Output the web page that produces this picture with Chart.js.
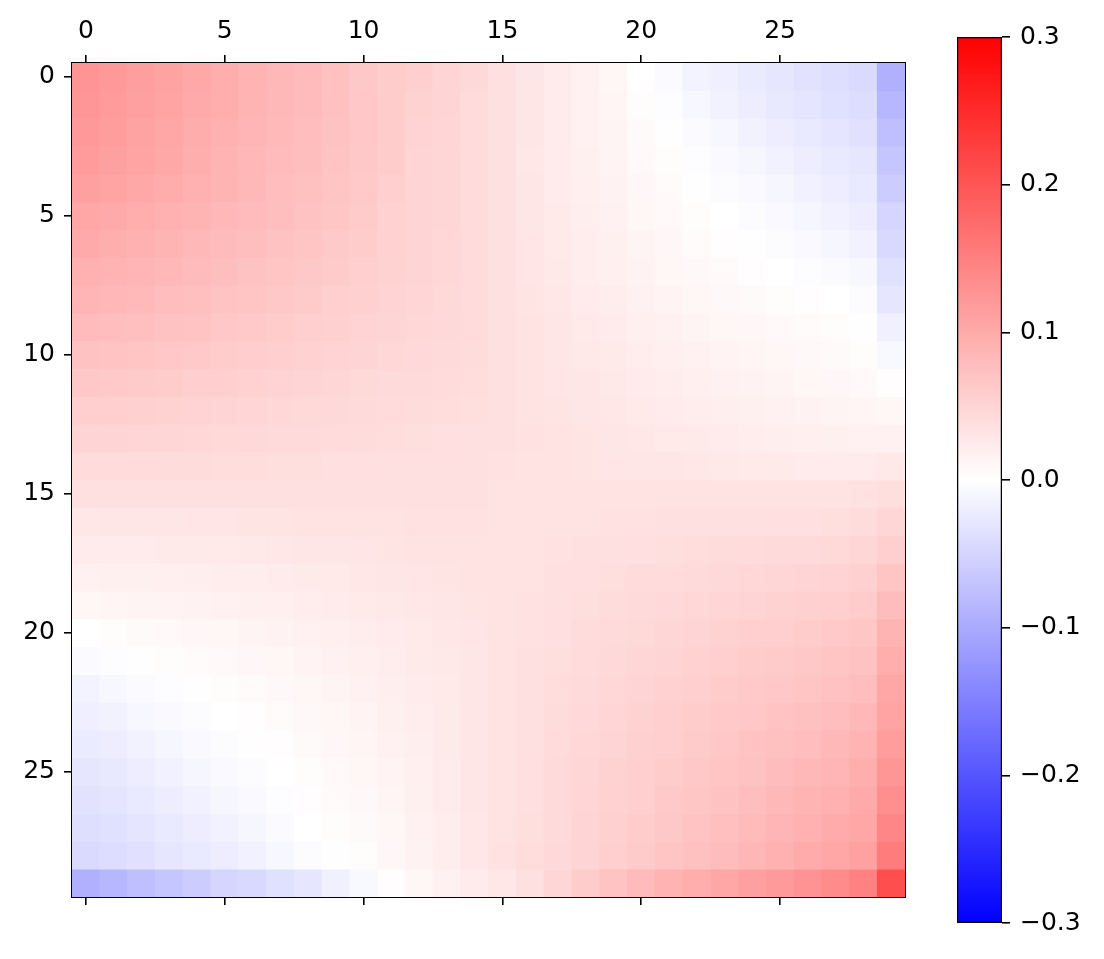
<!DOCTYPE html>
<html>
<head>
<meta charset="utf-8">
<script src="https://cdn.jsdelivr.net/npm/chart.js@4.4.1/dist/chart.umd.min.js"></script>
<style>
  body { margin: 0; background: #fff; }
  #wrap { position: relative; width: 1104px; height: 959px; }
  #heat { position: absolute; left: 0; top: 0; }
  #cbar { position: absolute; left: 940px; top: 0; }
</style>
</head>
<body>
<div id="wrap">
  <canvas id="heat" width="940" height="959"></canvas>
  <canvas id="cbar" width="164" height="959"></canvas>
</div>
<script>
// values, one array per row (row 0 at top)
const matrix = [
  [0.126,0.120,0.114,0.110,0.102,0.097,0.090,0.083,0.080,0.074,0.065,0.060,0.057,0.051,0.045,0.036,0.029,0.024,0.016,0.010,0.000,-0.006,-0.014,-0.019,-0.024,-0.030,-0.034,-0.039,-0.043,-0.093],
  [0.124,0.118,0.112,0.108,0.100,0.096,0.088,0.083,0.080,0.074,0.066,0.060,0.053,0.050,0.042,0.036,0.029,0.024,0.017,0.012,0.003,-0.002,-0.009,-0.015,-0.021,-0.027,-0.031,-0.036,-0.040,-0.085],
  [0.120,0.115,0.110,0.105,0.098,0.093,0.087,0.082,0.078,0.072,0.066,0.060,0.052,0.049,0.042,0.036,0.029,0.024,0.017,0.013,0.006,0.001,-0.005,-0.010,-0.015,-0.021,-0.026,-0.031,-0.035,-0.075],
  [0.118,0.112,0.108,0.102,0.095,0.090,0.085,0.080,0.076,0.070,0.065,0.060,0.051,0.048,0.042,0.036,0.028,0.024,0.018,0.014,0.007,0.003,-0.002,-0.007,-0.011,-0.016,-0.021,-0.026,-0.030,-0.068],
  [0.112,0.108,0.102,0.098,0.093,0.088,0.083,0.078,0.074,0.068,0.064,0.058,0.051,0.048,0.042,0.036,0.029,0.024,0.019,0.015,0.009,0.005,0.001,-0.003,-0.007,-0.011,-0.016,-0.021,-0.026,-0.060],
  [0.105,0.100,0.097,0.093,0.088,0.085,0.080,0.076,0.072,0.067,0.062,0.054,0.051,0.048,0.042,0.036,0.030,0.025,0.020,0.016,0.011,0.007,0.003,0.000,-0.004,-0.007,-0.011,-0.016,-0.021,-0.050],
  [0.100,0.095,0.092,0.088,0.084,0.080,0.076,0.072,0.068,0.064,0.060,0.054,0.050,0.047,0.042,0.036,0.031,0.026,0.021,0.018,0.013,0.009,0.005,0.002,-0.001,-0.004,-0.007,-0.011,-0.016,-0.045],
  [0.093,0.090,0.087,0.083,0.080,0.076,0.072,0.068,0.065,0.062,0.058,0.053,0.050,0.047,0.042,0.036,0.031,0.027,0.022,0.019,0.015,0.011,0.008,0.005,0.002,0.000,-0.002,-0.005,-0.009,-0.037],
  [0.087,0.085,0.082,0.078,0.075,0.071,0.068,0.065,0.062,0.058,0.055,0.052,0.049,0.046,0.042,0.036,0.032,0.028,0.024,0.021,0.017,0.014,0.011,0.008,0.006,0.004,0.002,0.000,-0.004,-0.029],
  [0.080,0.078,0.075,0.072,0.070,0.066,0.064,0.061,0.058,0.055,0.052,0.050,0.047,0.045,0.042,0.036,0.033,0.029,0.026,0.023,0.019,0.016,0.013,0.011,0.009,0.007,0.005,0.003,0.001,-0.018],
  [0.072,0.070,0.068,0.066,0.064,0.061,0.059,0.056,0.054,0.052,0.050,0.047,0.045,0.043,0.041,0.036,0.033,0.030,0.027,0.025,0.022,0.019,0.016,0.014,0.012,0.010,0.008,0.006,0.004,-0.008],
  [0.065,0.063,0.062,0.060,0.058,0.056,0.054,0.052,0.050,0.048,0.046,0.044,0.043,0.041,0.040,0.036,0.034,0.031,0.029,0.027,0.024,0.021,0.019,0.017,0.015,0.013,0.011,0.009,0.007,0.002],
  [0.057,0.056,0.055,0.053,0.052,0.050,0.049,0.047,0.046,0.045,0.043,0.042,0.041,0.040,0.039,0.036,0.034,0.032,0.030,0.028,0.026,0.024,0.022,0.020,0.018,0.016,0.015,0.013,0.012,0.010],
  [0.050,0.050,0.049,0.048,0.047,0.046,0.045,0.044,0.043,0.042,0.041,0.040,0.039,0.038,0.037,0.036,0.035,0.033,0.032,0.030,0.028,0.026,0.025,0.023,0.022,0.020,0.019,0.018,0.017,0.017],
  [0.042,0.042,0.042,0.041,0.041,0.040,0.040,0.039,0.039,0.038,0.038,0.037,0.037,0.036,0.036,0.035,0.034,0.033,0.032,0.031,0.030,0.029,0.028,0.027,0.026,0.025,0.024,0.024,0.024,0.027],
  [0.036,0.037,0.037,0.037,0.037,0.037,0.037,0.037,0.037,0.037,0.037,0.037,0.037,0.036,0.036,0.033,0.033,0.033,0.033,0.033,0.033,0.033,0.033,0.033,0.033,0.033,0.034,0.034,0.035,0.039],
  [0.028,0.029,0.030,0.030,0.031,0.031,0.032,0.032,0.033,0.033,0.034,0.034,0.035,0.035,0.035,0.033,0.034,0.034,0.034,0.035,0.035,0.036,0.036,0.037,0.037,0.038,0.038,0.039,0.041,0.048],
  [0.023,0.024,0.024,0.025,0.025,0.026,0.027,0.028,0.029,0.030,0.031,0.032,0.033,0.034,0.034,0.033,0.034,0.035,0.036,0.037,0.038,0.039,0.040,0.041,0.042,0.043,0.044,0.046,0.048,0.058],
  [0.017,0.018,0.018,0.019,0.020,0.021,0.022,0.023,0.025,0.026,0.028,0.029,0.031,0.032,0.033,0.033,0.034,0.036,0.038,0.039,0.041,0.042,0.044,0.045,0.047,0.048,0.050,0.052,0.055,0.069],
  [0.011,0.012,0.013,0.014,0.015,0.016,0.018,0.019,0.021,0.023,0.025,0.027,0.028,0.030,0.032,0.033,0.035,0.037,0.039,0.041,0.043,0.045,0.047,0.049,0.051,0.053,0.055,0.057,0.061,0.079],
  [0.000,0.003,0.006,0.007,0.009,0.011,0.013,0.015,0.017,0.019,0.022,0.024,0.026,0.028,0.031,0.033,0.035,0.038,0.041,0.043,0.046,0.048,0.051,0.053,0.056,0.058,0.060,0.063,0.067,0.088],
  [-0.006,-0.002,0.001,0.003,0.005,0.007,0.009,0.011,0.014,0.016,0.019,0.022,0.025,0.027,0.030,0.033,0.036,0.039,0.042,0.045,0.048,0.051,0.054,0.057,0.060,0.062,0.065,0.068,0.072,0.096],
  [-0.014,-0.009,-0.005,-0.002,0.001,0.003,0.005,0.008,0.011,0.013,0.016,0.020,0.023,0.026,0.030,0.033,0.036,0.040,0.044,0.047,0.051,0.054,0.057,0.060,0.063,0.066,0.069,0.073,0.078,0.105],
  [-0.019,-0.015,-0.010,-0.007,-0.003,0.000,0.002,0.005,0.008,0.011,0.014,0.018,0.022,0.025,0.030,0.033,0.037,0.041,0.045,0.049,0.053,0.057,0.060,0.063,0.066,0.071,0.074,0.078,0.085,0.108],
  [-0.024,-0.021,-0.015,-0.011,-0.007,-0.004,-0.001,0.002,0.006,0.009,0.012,0.016,0.020,0.025,0.029,0.033,0.037,0.042,0.047,0.051,0.055,0.058,0.062,0.066,0.070,0.074,0.078,0.083,0.090,0.117],
  [-0.030,-0.027,-0.021,-0.016,-0.011,-0.007,-0.004,0.000,0.004,0.007,0.010,0.014,0.019,0.024,0.029,0.033,0.038,0.043,0.048,0.053,0.056,0.060,0.065,0.068,0.072,0.079,0.083,0.087,0.095,0.124],
  [-0.034,-0.031,-0.026,-0.021,-0.016,-0.011,-0.007,-0.002,0.002,0.005,0.008,0.012,0.018,0.023,0.029,0.034,0.038,0.043,0.049,0.054,0.058,0.063,0.067,0.072,0.077,0.083,0.088,0.093,0.100,0.132],
  [-0.039,-0.036,-0.031,-0.026,-0.021,-0.016,-0.011,-0.005,0.000,0.003,0.006,0.010,0.016,0.022,0.028,0.034,0.039,0.044,0.050,0.055,0.060,0.065,0.070,0.075,0.081,0.087,0.093,0.099,0.105,0.142],
  [-0.043,-0.040,-0.035,-0.030,-0.026,-0.021,-0.016,-0.009,-0.004,0.001,0.004,0.009,0.015,0.021,0.028,0.035,0.040,0.045,0.050,0.056,0.062,0.068,0.074,0.079,0.086,0.092,0.099,0.105,0.111,0.154],
  [-0.093,-0.085,-0.075,-0.068,-0.060,-0.050,-0.045,-0.037,-0.029,-0.018,-0.008,0.002,0.010,0.017,0.024,0.028,0.037,0.048,0.060,0.070,0.080,0.089,0.096,0.105,0.112,0.119,0.128,0.136,0.148,0.208]
];

const xTicks = [0, 5, 10, 15, 20, 25];
const yTicks = [0, 5, 10, 15, 20, 25];
const cbarTicks = [-0.3, -0.2, -0.1, 0.0, 0.1, 0.2, 0.3];
const vmin = -0.3;
const vmax = 0.3;

const FONT = { family: 'DejaVu Sans', size: 25 };

// bwr colormap
function bwr(v) {
    let t = (v - vmin) / (vmax - vmin);
    t = Math.max(0, Math.min(1, t));
    let r, g, b;
    if (t < 0.5) {
        r = g = Math.round(255 * 2 * t);
        b = 255;
    } else {
        r = 255;
        g = b = Math.round(255 * (2 - 2 * t));
    }
    return `rgb(${r},${g},${b})`;
}

function fixTicks(values) {
    return function(axis) {
        axis.ticks = values.map(v => ({ value: v }));
    };
}

function tickGrid() {
    return { display: true, offset: false, drawOnChartArea: false, drawTicks: true,
             tickLength: 8, tickWidth: 1.6, tickColor: '#000', color: '#000', lineWidth: 1.6 };
}
function frame() {
    return { display: true, color: '#000', width: 2 };
}

const n = matrix.length;
const datasets = matrix.map((row, r) => ({
    data: row.map((v, c) => ({ x: c, y: [r - 0.5, r + 0.5] })),
    backgroundColor: row.map(bwr),
    borderWidth: 0,
    barPercentage: 1,
    categoryPercentage: 1,
    grouped: false
}));

new Chart(document.getElementById('heat'), {
    type: 'bar',
    data: { datasets },
    options: {
        responsive: false,
        animation: false,
        plugins: { legend: { display: false }, tooltip: { enabled: false } },
        layout: { padding: 0 },
        scales: {
            x: {
                type: 'linear', position: 'top', min: -0.5, max: n - 0.5, offset: false,
                afterBuildTicks: fixTicks(xTicks),
                afterFit: a => { a.height = 63; },
                ticks: { font: FONT, color: '#000', padding: 9, maxRotation: 0 },
                grid: tickGrid(), border: frame()
            },
            xb: {
                type: 'linear', position: 'bottom', min: -0.5, max: n - 0.5, offset: false,
                afterBuildTicks: fixTicks(xTicks),
                afterFit: a => { a.height = 62; },
                ticks: { display: false },
                grid: tickGrid(), border: frame()
            },
            y: {
                type: 'linear', position: 'left', reverse: true, min: -0.5, max: n - 0.5,
                afterBuildTicks: fixTicks(yTicks),
                afterFit: a => { a.width = 72; },
                ticks: { font: FONT, color: '#000', padding: 9 },
                grid: tickGrid(), border: frame()
            },
            yr: {
                type: 'linear', position: 'right', min: -0.5, max: n - 0.5,
                afterFit: a => { a.width = 35; },
                ticks: { display: false },
                grid: { display: false }, border: frame()
            }
        }
    }
});

// colorbar
new Chart(document.getElementById('cbar'), {
    type: 'bar',
    data: {
        labels: [''],
        datasets: [{
            data: [[vmin, vmax]],
            barPercentage: 1,
            categoryPercentage: 1,
            borderWidth: 1.6,
            borderColor: '#000',
            borderSkipped: false,
            backgroundColor: function(ctx) {
                const chart = ctx.chart;
                if (!chart.chartArea) return '#fff';
                const y = chart.scales.y;
                const g = chart.ctx.createLinearGradient(0, y.getPixelForValue(vmin), 0, y.getPixelForValue(vmax));
                g.addColorStop(0, bwr(vmin));
                g.addColorStop(0.5, bwr(0));
                g.addColorStop(1, bwr(vmax));
                return g;
            }
        }]
    },
    options: {
        responsive: false,
        animation: false,
        plugins: { legend: { display: false }, tooltip: { enabled: false } },
        layout: { padding: { left: 17, top: 37, bottom: 36, right: 0 } },
        scales: {
            x: { display: false },
            y: {
                position: 'right', min: vmin, max: vmax,
                afterBuildTicks: fixTicks(cbarTicks),
                afterFit: a => { a.width = 102; },
                ticks: {
                    font: FONT, color: '#000', padding: 10,
                    callback: v => v.toFixed(1).replace('-', '\u2212')
                },
                grid: tickGrid(),
                border: { display: false }
            }
        }
    }
});
</script>
</body>
</html>
